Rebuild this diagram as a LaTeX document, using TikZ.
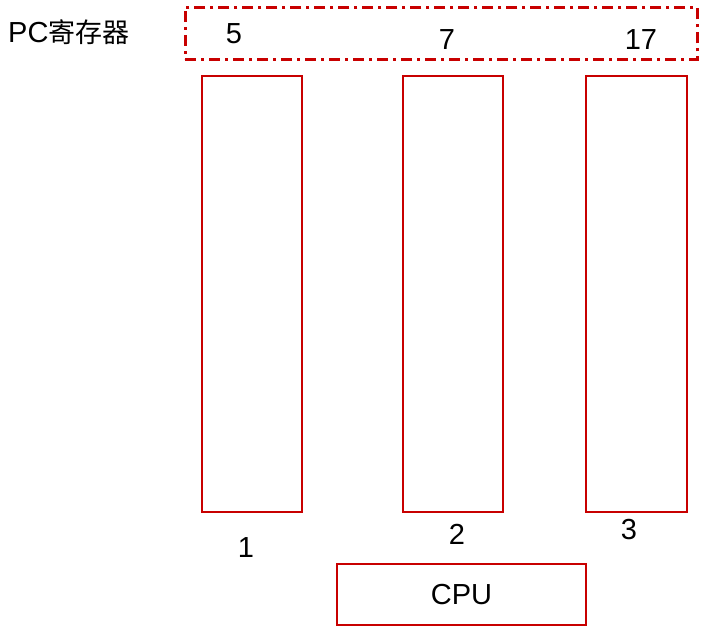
\documentclass[tikz,border=0pt]{standalone}
\usepackage{fontspec}
\setmainfont{Liberation Sans}
\newfontfamily\cjk{Noto Sans CJK SC}
\definecolor{myred}{RGB}{200,0,0}
\begin{document}
\begin{tikzpicture}[x=1pt,y=-1pt,
  box/.style={draw=myred,line width=2pt},
  lbl/.style={font=\fontsize{29}{32}\selectfont,inner sep=0pt},
  dashbox/.style={draw=myred,line width=2.6pt,dash pattern=on 11pt off 5pt on 3pt off 5pt}]
\useasboundingbox[fill=white] (0,0) rectangle (724,630);
\node[dashbox,minimum width=512pt,minimum height=52pt,anchor=north west,inner sep=0pt] (pc) at (184,6) {};
\node[lbl,anchor=west] (pclbl) at (8,32) {PC{\cjk\fontsize{27}{30}\selectfont 寄存器}};
\node[lbl] (v5) at (234,34) {5};
\node[lbl] (v7) at (447,40) {7};
\node[lbl] (v17) at (641,40) {17};
\node[box,minimum width=100pt,minimum height=436pt,anchor=north west,inner sep=0pt] (r1) at (201,75) {};
\node[box,minimum width=100pt,minimum height=436pt,anchor=north west,inner sep=0pt] (r2) at (402,75) {};
\node[box,minimum width=101pt,minimum height=436pt,anchor=north west,inner sep=0pt] (r3) at (585,75) {};
\node[lbl] (n1) at (246,548) {1};
\node[lbl] (n2) at (457,534) {2};
\node[lbl] (n3) at (629,530) {3};
\node[box,lbl,minimum width=249pt,minimum height=61pt,anchor=north west] (cpu) at (336,563) {};
\node[lbl] (cputxt) at (cpu.center) {CPU};
\end{tikzpicture}
\end{document}
